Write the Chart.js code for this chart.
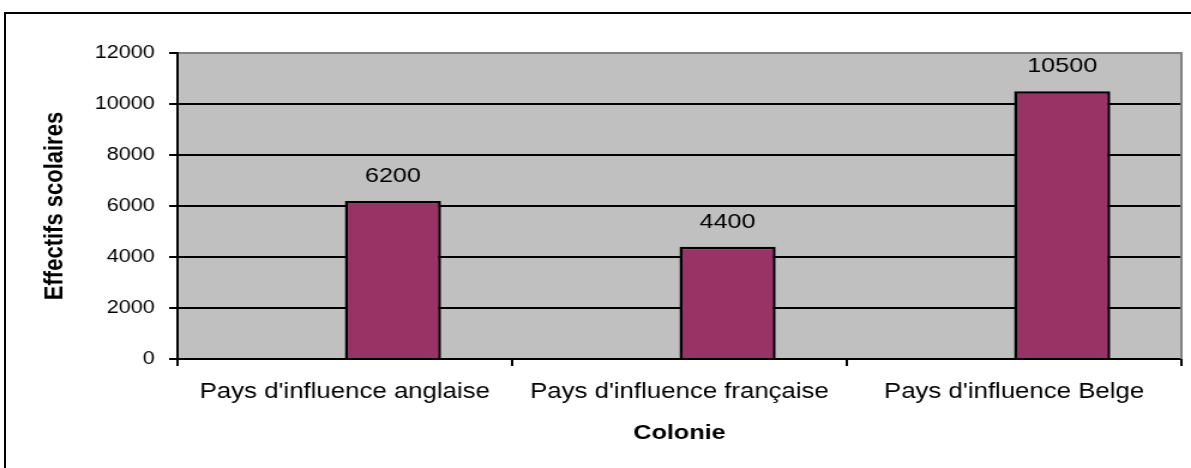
<!DOCTYPE html>
<html lang="fr">

<head>
    <meta charset="UTF-8">
    <title>Effectifs scolaires par colonie</title>
    <script src="https://cdn.jsdelivr.net/npm/chart.js@4.4.0/dist/chart.umd.min.js"></script>

    <style>
        body {
            margin: 0;
            width: 1191px;
            height: 468px;
            overflow: hidden;
            background: #fff;
            position: relative;
            font-family: 'Liberation Sans', Arial, sans-serif;
        }

        /* cadre du graphique (seuls les bords haut et gauche sont visibles) */
        #cadre {
            position: absolute;
            left: 4px;
            top: 12px;
            width: 1300px;
            height: 600px;
            border-left: 2px solid #000;
            border-top: 2px solid #000;
        }

        /* le graphique d'origine est étiré horizontalement */
        #zone {
            position: absolute;
            left: 0;
            top: 0;
            width: 993px;
            height: 468px;
            transform: scaleX(1.1994);
            transform-origin: 0 0;
        }
    </style>
</head>

<body>
    <div id="cadre"></div>
    <div id="zone">
        <canvas id="effectifs" width="993" height="468"></canvas>
    </div>

    <script>
        // Données
        const colonies = ["Pays d'influence anglaise", "Pays d'influence française", "Pays d'influence Belge"];
        const effectifs = [6200, 4400, 10500];
        const serieVide = [null, null, null];
        const graduations = [0, 2000, 4000, 6000, 8000, 10000, 12000];

        const police = "'Liberation Sans', Arial, sans-serif";

        // Fond gris, bord droit et valeurs au-dessus des barres
        const decor = {
            id: 'decor',
            beforeDraw(chart) {
                const { ctx, chartArea: a } = chart;
                ctx.save();
                ctx.fillStyle = '#C0C0C0';
                ctx.fillRect(a.left, a.top, a.right - a.left, a.bottom - a.top);
                ctx.restore();
            },
            beforeDatasetsDraw(chart) {
                const { ctx, chartArea: a } = chart;
                ctx.save();
                ctx.strokeStyle = '#808080';
                ctx.lineWidth = 2;
                ctx.beginPath();
                ctx.moveTo(a.right, a.top - 1);
                ctx.lineTo(a.right, a.bottom);
                ctx.stroke();
                ctx.restore();
            },
            afterDatasetsDraw(chart) {
                const ctx = chart.ctx;
                const meta = chart.getDatasetMeta(1);
                ctx.save();
                ctx.fillStyle = '#000';
                ctx.font = '21px ' + police;
                ctx.textAlign = 'center';
                ctx.textBaseline = 'alphabetic';
                meta.data.forEach((barre, i) => {
                    ctx.fillText(String(effectifs[i]), barre.x, barre.y - 19);
                });
                ctx.restore();
            }
        };

        const ctx = document.getElementById('effectifs');
        const graph = new Chart(ctx, {
            type: 'bar',
            data: {
                labels: colonies,
                datasets: [{
                        label: '',
                        data: serieVide
                    },
                    {
                        label: 'Effectifs scolaires',
                        data: effectifs,
                        backgroundColor: '#993366',
                        borderColor: '#000',
                        borderWidth: 2.5,
                        borderSkipped: 'bottom'
                    }
                ]
            },
            options: {
                responsive: false,
                animation: false,
                categoryPercentage: 0.575,
                barPercentage: 1,
                layout: {
                    padding: { top: 53, right: 8, left: 0, bottom: 0 }
                },
                plugins: {
                    legend: { display: false },
                    tooltip: { enabled: false }
                },
                scales: {
                    x: {
                        afterFit: s => { s.height = 109; },
                        border: { color: '#000', width: 2 },
                        grid: {
                            drawOnChartArea: false,
                            offset: true,
                            color: '#000',
                            lineWidth: 2,
                            tickLength: 7
                        },
                        ticks: {
                            color: '#000',
                            font: { family: police, size: 21.5 },
                            padding: 13,
                            maxRotation: 0,
                            autoSkip: false
                        },
                        title: {
                            display: true,
                            text: 'Colonie',
                            color: '#000',
                            font: { family: police, size: 21, weight: 'bold' },
                            padding: { top: 0, bottom: 22 }
                        }
                    },
                    y: {
                        min: 0,
                        max: 12000,
                        afterBuildTicks: s => { s.ticks = graduations.map(v => ({ value: v })); },
                        afterFit: s => { s.width = 148; },
                        border: { color: '#000', width: 2 },
                        grid: {
                            color: c => (c.tick && c.tick.value === 12000 ? '#808080' : '#000'),
                            tickColor: '#000',
                            lineWidth: 2,
                            tickLength: 7
                        },
                        ticks: {
                            color: '#000',
                            font: { family: police, size: 18 },
                            padding: 12,
                            callback: v => String(v)
                        },
                        title: {
                            display: true,
                            text: 'Effectifs scolaires',
                            color: '#000',
                            font: { family: police, size: 22, weight: 'bold' },
                            padding: { top: 33, bottom: 0 }
                        }
                    }
                }
            },
            plugins: [decor]
        });
    </script>
</body>

</html>
